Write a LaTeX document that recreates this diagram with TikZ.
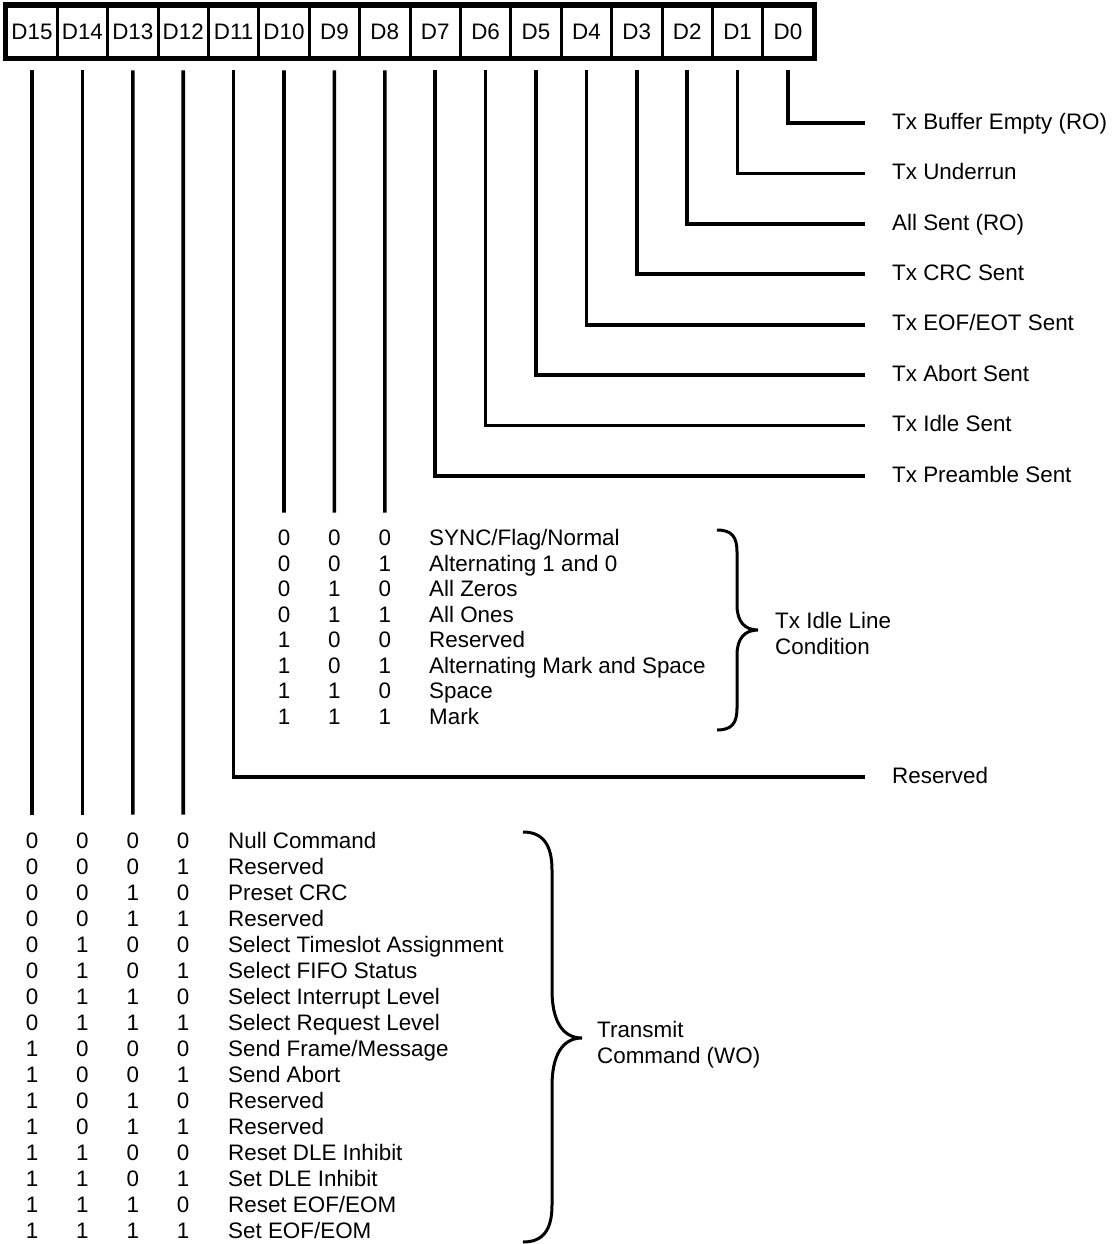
\documentclass[tikz,border=0pt]{standalone}
\usepackage{fontspec}
\setmainfont{Liberation Sans}
\usetikzlibrary{positioning, calc}
\newcommand{\fonte}{\fontsize{22.4}{26}\selectfont}
\tikzset{
    celula/.style={rectangle, draw, line width=3pt, minimum width=50.4pt, minimum height=51pt, inner sep=0pt, font=\fonte},
    rotulo/.style={anchor=west, inner sep=0pt, text height=15.5pt, text depth=3pt, font=\fonte},
    valor/.style={inner sep=0pt, text height=15.5pt, text depth=0pt, font=\fonte},
    texto/.style={valor, anchor=west},
    titulo/.style={anchor=west, inner sep=0pt, align=left, font=\fonte},
    linha/.style={line width=3.6pt},
    chave/.style={line width=3pt}
}

\begin{document}
\begin{tikzpicture}[x=1pt, y=-1pt]
        \useasboundingbox (0,0) rectangle (1111,1244);

        % O registo (D15 ... D0)
        \foreach \i in {0,...,15}
            \node[celula] (d\i) at ({32+(15-\i)*50.4}, 32) {D\i};
        \draw[line width=5pt] (d15.north west) rectangle (d0.south east);

        % Bits de estado (D0 a D7)
        \foreach \i/\txt in {0/{Tx Buffer Empty (RO)}, 1/{Tx Underrun}, 2/{All Sent (RO)}, 3/{Tx CRC Sent},
                             4/{Tx EOF/EOT Sent}, 5/{Tx Abort Sent}, 6/{Tx Idle Sent}, 7/{Tx Preamble Sent}} {
            \node[rotulo] (r\i) at (892, {123+\i*50.43}) {\txt};
            \draw[linha] ([yshift=-11.5pt]d\i.south) |- ([xshift=-27pt]r\i.west);
        }

        % D11 reservado
        \node[rotulo] (r11) at (892, 777) {Reserved};
        \draw[linha] ([yshift=-11.5pt]d11.south) |- ([xshift=-27pt]r11.west);

        % Tabela da linha ociosa (D10..D8)
        \foreach \lin/\va/\vb/\vc/\txt in {0/0/0/0/{SYNC/Flag/Normal}, 1/0/0/1/{Alternating 1 and 0},
                                           2/0/1/0/{All Zeros}, 3/0/1/1/{All Ones}, 4/1/0/0/{Reserved},
                                           5/1/0/1/{Alternating Mark and Space}, 6/1/1/0/{Space}, 7/1/1/1/{Mark}} {
            \node[valor] (oc\lin d10) at (284, {538+\lin*25.5}) {\va};
            \node[valor] (oc\lin d9) at (334.4, {538+\lin*25.5}) {\vb};
            \node[valor] (oc\lin d8) at (384.8, {538+\lin*25.5}) {\vc};
            \node[texto] (oc\lin t) at (429, {538+\lin*25.5}) {\txt};
        }
        \foreach \i in {8,9,10}
            \draw[linha] ([yshift=-11.5pt]d\i.south) -- ([yshift=17.5pt]oc0d\i.north);

        \draw[chave] (717,530) .. controls (732,530) and (737,537) .. (737,552) -- (737,605)
            .. controls (737,622) and (745,630) .. (758,630)
            .. controls (745,630) and (737,638) .. (737,655) -- (737,708)
            .. controls (737,723) and (732,730) .. (717,730);
        \node[titulo] (ocioso) at (775, 633) {Tx Idle Line\\Condition};

        % Comandos de transmissao (D15..D12)
        \foreach \lin/\va/\vb/\vc/\vd/\txt in {0/0/0/0/0/{Null Command}, 1/0/0/0/1/{Reserved},
                                               2/0/0/1/0/{Preset CRC}, 3/0/0/1/1/{Reserved},
                                               4/0/1/0/0/{Select Timeslot Assignment}, 5/0/1/0/1/{Select FIFO Status},
                                               6/0/1/1/0/{Select Interrupt Level}, 7/0/1/1/1/{Select Request Level},
                                               8/1/0/0/0/{Send Frame/Message}, 9/1/0/0/1/{Send Abort},
                                               10/1/0/1/0/{Reserved}, 11/1/0/1/1/{Reserved},
                                               12/1/1/0/0/{Reset DLE Inhibit}, 13/1/1/0/1/{Set DLE Inhibit},
                                               14/1/1/1/0/{Reset EOF/EOM}, 15/1/1/1/1/{Set EOF/EOM}} {
            \node[valor] (cmd\lin d15) at (32, {840.5+\lin*26.03}) {\va};
            \node[valor] (cmd\lin d14) at (82.4, {840.5+\lin*26.03}) {\vb};
            \node[valor] (cmd\lin d13) at (132.8, {840.5+\lin*26.03}) {\vc};
            \node[valor] (cmd\lin d12) at (183.2, {840.5+\lin*26.03}) {\vd};
            \node[texto] (cmd\lin t) at (228, {840.5+\lin*26.03}) {\txt};
        }
        \foreach \i in {12,...,15}
            \draw[linha] ([yshift=-11.5pt]d\i.south) -- ([yshift=18pt]cmd0d\i.north);

        \draw[chave] (523,832) .. controls (543,832) and (552,845) .. (552,870) -- (552,990)
            .. controls (552,1020) and (562,1038) .. (582,1038)
            .. controls (562,1038) and (552,1056) .. (552,1086) -- (552,1205)
            .. controls (552,1230) and (543,1242) .. (523,1242);
        \node[titulo] (transmite) at (597, 1045) {Transmit\\Command (WO)};

    \end{tikzpicture}
\end{document}
